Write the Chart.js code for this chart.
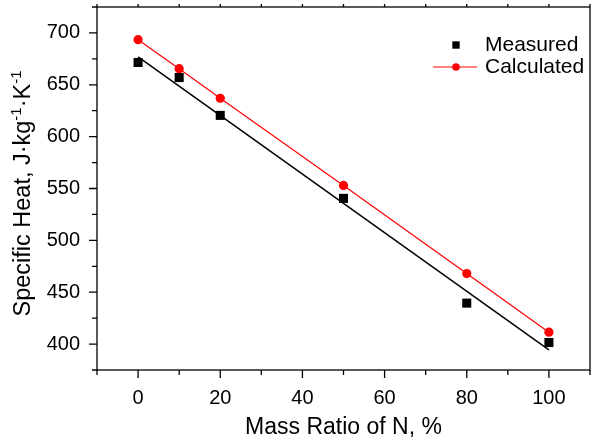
<!DOCTYPE html>
<html><head><meta charset="utf-8">
<script src="https://cdn.jsdelivr.net/npm/chart.js@4"></script>
<style>html,body{margin:0;padding:0;background:#fff}#wrap{width:593px;height:439px}</style>
</head><body><div id="wrap"><canvas id="c" width="593" height="439"></canvas></div>
<script>
const massRatio = [0, 10, 20, 50, 80, 100];
const measured = [671.5, 657, 620.5, 540.5, 439.5, 401.5];
const calculated = [693.5, 665.5, 637, 553, 468, 411.5];
const fitX = [0, 100];
const fitMeasured = [677, 394.5];
const xTickLabels = [0, 20, 40, 60, 80, 100];
const yTickLabels = [400, 450, 500, 550, 600, 650, 700];
const seriesNames = ['Measured', 'Calculated'];
const xTitle = 'Mass Ratio of N, %';
const yTitleParts = [['Specific Heat, J·kg', false], ['-1', true], ['·K', false], ['-1', true]];

const FONT = "'Liberation Sans', Arial, Helvetica, sans-serif";

const toPts = (xs, ys) => xs.map((x, i) => ({x: x, y: ys[i]}));
const zeroPad = s => { s.paddingTop = 0; s.paddingBottom = 0; s.paddingLeft = 0; s.paddingRight = 0; };

const framePlugin = {
  id: 'frame',
  afterDraw(chart) {
    const ctx = chart.ctx, a = chart.chartArea;
    const xs = chart.scales.x, ys = chart.scales.y;
    ctx.save();
    ctx.strokeStyle = '#000';
    ctx.lineWidth = 1.3;
    ctx.strokeRect(a.left, a.top, a.right - a.left, a.bottom - a.top);
    ctx.beginPath();
    xs.ticks.forEach(t => {
      const px = xs.getPixelForValue(t.value);
      const major = xTickLabels.includes(t.value);
      ctx.moveTo(px, a.bottom);
      ctx.lineTo(px, a.bottom + (major ? 8 : 5));
      ctx.moveTo(px, a.top);
      ctx.lineTo(px, a.top - 3);
    });
    ys.ticks.forEach(t => {
      const py = ys.getPixelForValue(t.value);
      const major = yTickLabels.includes(t.value);
      ctx.moveTo(a.left, py);
      ctx.lineTo(a.left - (major ? 8 : 5), py);
    });
    ctx.stroke();

    // y-axis title with superscripts
    const big = "23.5px " + FONT, small = "15px " + FONT;
    let total = 0;
    yTitleParts.forEach(p => { ctx.font = p[1] ? small : big; total += ctx.measureText(p[0]).width; });
    ctx.translate(24, (a.top + a.bottom) / 2 + 5);
    ctx.rotate(-Math.PI / 2);
    ctx.fillStyle = '#000';
    ctx.textBaseline = 'middle';
    let cx = -total / 2;
    yTitleParts.forEach(p => {
      ctx.font = p[1] ? small : big;
      ctx.fillText(p[0], cx, p[1] ? -7.5 : 0);
      cx += ctx.measureText(p[0]).width;
    });
    ctx.restore();

    // legend
    ctx.save();
    ctx.font = "21px " + FONT;
    ctx.textBaseline = 'middle';
    ctx.fillStyle = '#000';
    const ly1 = 45, ly2 = 67;
    ctx.fillRect(456 - 3.7, ly1 - 3.7, 7.4, 7.4);
    ctx.fillText(seriesNames[0], 485, ly1);
    ctx.strokeStyle = '#ff0000';
    ctx.lineWidth = 1.2;
    ctx.beginPath(); ctx.moveTo(433, ly2); ctx.lineTo(477, ly2); ctx.stroke();
    ctx.fillStyle = '#ff0000';
    ctx.beginPath(); ctx.arc(456, ly2, 3.8, 0, Math.PI * 2); ctx.fill();
    ctx.fillStyle = '#000';
    ctx.fillText(seriesNames[1], 485, ly2);
    ctx.restore();
  }
};

new Chart(document.getElementById('c'), {
  type: 'scatter',
  data: {
    datasets: [
      {
        label: seriesNames[0],
        data: toPts(massRatio, measured),
        pointStyle: 'rect', pointRadius: 6.4, pointHoverRadius: 6.4,
        backgroundColor: '#000', borderColor: '#000', borderWidth: 0,
        showLine: false, order: 2
      },
      {
        label: seriesNames[1],
        data: toPts(massRatio, calculated),
        pointStyle: 'circle', pointRadius: 4.6, pointHoverRadius: 4.6,
        pointBackgroundColor: '#ff0000', pointBorderWidth: 0,
        borderColor: '#ff0000', borderWidth: 1.2,
        showLine: true, order: 1
      },
      {
        label: 'fit',
        data: toPts(fitX, fitMeasured),
        pointRadius: 0, borderColor: '#000', borderWidth: 1.5,
        showLine: true, order: 3
      }
    ]
  },
  options: {
    responsive: false,
    animation: false,
    layout: {autoPadding: false, padding: {top: 7, right: 3, left: 0, bottom: 0}},
    plugins: {legend: {display: false}, tooltip: {enabled: false}},
    scales: {
      x: {
        type: 'linear', min: -10, max: 110,
        afterFit: s => { s.height = 69; zeroPad(s); },
        ticks: {
          stepSize: 10, autoSkip: false, maxRotation: 0, padding: 0,
          color: '#000', font: {family: FONT, size: 20},
          callback: v => xTickLabels.includes(v) ? String(v) : ''
        },
        grid: {display: true, drawOnChartArea: false, color: 'rgba(0,0,0,0)', tickLength: 16},
        border: {display: false},
        title: {display: true, text: xTitle, color: '#000', font: {family: FONT, size: 23}, padding: {top: 0, bottom: -2}}
      },
      y: {
        type: 'linear', min: 375, max: 725,
        afterFit: s => { s.width = 97; zeroPad(s); },
        ticks: {
          stepSize: 25, autoSkip: false, padding: 0,
          color: '#000', font: {family: FONT, size: 20},
          callback: v => yTickLabels.includes(v) ? String(v) : ''
        },
        grid: {display: true, drawOnChartArea: false, color: 'rgba(0,0,0,0)', tickLength: 17},
        border: {display: false},
        title: {display: false}
      }
    }
  },
  plugins: [framePlugin]
});
</script>
</body></html>
